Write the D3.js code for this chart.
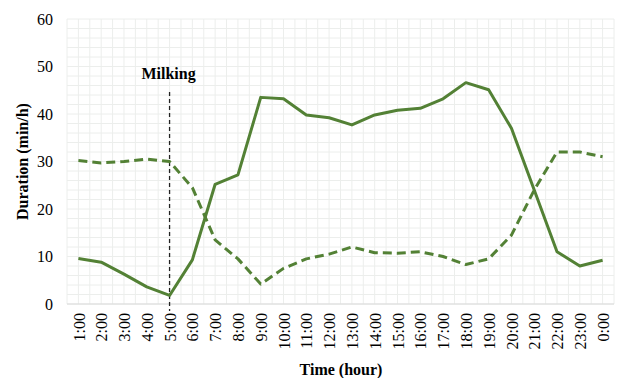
<!DOCTYPE html>
<html>
<head>
<meta charset="utf-8">
<script src="https://cdn.jsdelivr.net/npm/d3@7"></script>
<style>
  body { margin: 0; background: #fff; }
  svg { display: block; }
</style>
</head>
<body>
<svg id="chart" width="618" height="378"></svg>
<script>
// Hourly time budget (min/h) of two behaviours over a day
const hours = ["1:00","2:00","3:00","4:00","5:00","6:00","7:00","8:00","9:00","10:00","11:00","12:00",
  "13:00","14:00","15:00","16:00","17:00","18:00","19:00","20:00","21:00","22:00","23:00","0:00"];
const solidSeries = [9.6, 8.8, 6.3, 3.6, 1.8, 9.3, 25.2, 27.2, 43.5, 43.2, 39.8, 39.2,
  37.7, 39.8, 40.8, 41.2, 43.2, 46.6, 45.1, 37.0, 24.0, 11.0, 8.0, 9.2];
const dashedSeries = [30.2, 29.7, 30.0, 30.5, 30.0, 24.5, 13.5, 9.5, 4.2, 7.5, 9.5, 10.5,
  12.0, 10.8, 10.7, 11.0, 10.0, 8.3, 9.5, 14.5, 24.0, 32.0, 32.0, 31.0];
const yTicks = [0, 10, 20, 30, 40, 50, 60];
const milkingHour = "5:00";

const FONT = "'Liberation Serif', 'DejaVu Serif', serif";
const svg = d3.select("#chart");
const plot = { left: 67, right: 614, top: 19, bottom: 304 };

const x = d3.scalePoint().domain(hours).range([plot.left, plot.right]).padding(0.5);
const step = x.step();
const y = d3.scaleLinear().domain([0, 60]).range([plot.bottom, plot.top]);

// minor grid
const grid = svg.append("g");
const vLines = d3.range(0, hours.length * 2 + 1).map(i => plot.left + i * step / 2);
grid.selectAll("line.v").data(vLines).join("line")
  .attr("x1", d => d).attr("x2", d => d).attr("y1", plot.top).attr("y2", plot.bottom)
  .attr("stroke", "#eceeec").attr("stroke-width", 1);
grid.selectAll("line.h").data(d3.range(0, 61, 2)).join("line")
  .attr("x1", plot.left).attr("x2", plot.right).attr("y1", d => y(d)).attr("y2", d => y(d))
  .attr("stroke", "#eceeec").attr("stroke-width", 1);

// baseline
svg.append("line").attr("x1", plot.left).attr("x2", plot.right).attr("y1", y(0)).attr("y2", y(0))
  .attr("stroke", "#d9d9d9").attr("stroke-width", 1.2);

// y axis
const yAxis = svg.append("g").attr("transform", `translate(${plot.left},0)`)
  .call(d3.axisLeft(y).tickValues(yTicks).tickSize(0).tickPadding(14));
yAxis.select(".domain").remove();
yAxis.selectAll("text").style("font-family", FONT).style("font-size", "16px").style("fill", "#000");

// x axis
const xAxis = svg.append("g").attr("transform", `translate(0,${plot.bottom})`)
  .call(d3.axisBottom(x).tickSize(0));
xAxis.select(".domain").remove();
xAxis.selectAll("text")
  .style("font-family", FONT).style("font-size", "16px").style("fill", "#000")
  .attr("transform", "rotate(-90)")
  .attr("text-anchor", "end").attr("dx", "-9px").attr("dy", "0.35em").attr("y", 0).attr("x", 0);

// milking marker
svg.append("line").attr("x1", x(milkingHour)).attr("x2", x(milkingHour))
  .attr("y1", 92).attr("y2", plot.bottom + 7)
  .attr("stroke", "#222").attr("stroke-width", 1.3).attr("stroke-dasharray", "4,3");
svg.append("text").attr("x", x(milkingHour) - 1).attr("y", 79)
  .attr("text-anchor", "middle")
  .style("font-family", FONT).style("font-size", "16px").style("font-weight", "bold")
  .text("Milking");

// series lines
const line = d3.line().x((d, i) => x(hours[i])).y(d => y(d));
svg.append("path").datum(dashedSeries).attr("d", line)
  .attr("fill", "none").attr("stroke", "#538135").attr("stroke-width", 3)
  .attr("stroke-dasharray", "9,5").attr("stroke-linejoin", "round");
svg.append("path").datum(solidSeries).attr("d", line)
  .attr("fill", "none").attr("stroke", "#538135").attr("stroke-width", 3)
  .attr("stroke-linejoin", "round");

// axis titles
svg.append("text").attr("transform", `translate(22,${(plot.top + plot.bottom) / 2}) rotate(-90)`)
  .attr("text-anchor", "middle").attr("dy", "0.35em")
  .style("font-family", FONT).style("font-size", "16px").style("font-weight", "bold")
  .text("Duration (min/h)");
svg.append("text").attr("x", 341).attr("y", 375)
  .attr("text-anchor", "middle")
  .style("font-family", FONT).style("font-size", "16px").style("font-weight", "bold")
  .text("Time (hour)");
</script>
</body>
</html>
